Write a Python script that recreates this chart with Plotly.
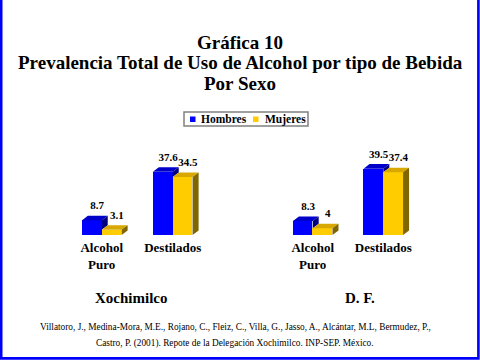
import plotly.graph_objects as go

# ---------------- data ----------------
categories = ["Alcohol<br>Puro", "Destilados"]
series_names = ["Hombres", "Mujeres"]
xochimilco_hombres = [8.7, 37.6]
xochimilco_mujeres = [3.1, 34.5]
df_hombres = [8.3, 39.5]
df_mujeres = [4, 37.4]
panel_names = ["Xochimilco", "D. F."]

title_lines = ["Gráfica 10",
               "Prevalencia Total de Uso de Alcohol por tipo de Bebida",
               "Por Sexo"]
footer_lines = ["Villatoro, J., Medina-Mora, M.E., Rojano, C., Fleiz, C., Villa, G., Jasso, A., Alcántar, M.L, Bermudez, P.,",
                "Castro, P. (2001). Repote de la Delegación Xochimilco. INP-SEP. México."]

# ---------------- style ----------------
W, H = 480, 360
SERIF = "Liberation Serif"
front_cols = ["#0000FF", "#FFCC00"]
top_cols = ["#0000C8", "#D8A800"]
side_cols = ["#000080", "#806600"]
BW = 0.28      # bar width (axis units)
DX = 0.085     # 3D depth in x units
DY = 2.7       # 3D depth in y units
LBL_GAP = 2.2  # extra gap above bar for value labels (y units)
LBL_DX = 0.075 # label shift to the right (x units)


def px_x(p):
    return p / W


def px_y(p):
    return 1 - p / H


fig = go.Figure()

panels = [
    ("x", "y", [xochimilco_hombres, xochimilco_mujeres]),
    ("x2", "y2", [df_hombres, df_mujeres]),
]

for xa, ya, (hv, mv) in panels:
    vals = [hv, mv]
    # front faces as bars
    for k in range(2):
        fig.add_trace(go.Bar(
            x=[i + (k - 0.5) * BW for i in range(len(categories))],
            y=vals[k], width=BW, base=0,
            marker=dict(color=front_cols[k], line=dict(width=0)),
            xaxis=xa, yaxis=ya, showlegend=False, hoverinfo="skip"))
    # 3D top and side faces
    for k in range(2):
        for i in range(len(categories)):
            v = vals[k][i]
            l = i - BW + k * BW
            r = l + BW
            fig.add_trace(go.Scatter(
                x=[l, r, r + DX, l + DX, l], y=[v, v, v + DY, v + DY, v],
                fill="toself", fillcolor=top_cols[k], mode="lines",
                line=dict(width=0, color=top_cols[k]),
                xaxis=xa, yaxis=ya, showlegend=False, hoverinfo="skip"))
            if k == 0:
                low = min(vals[1][i], v)
            else:
                low = 0
            fig.add_trace(go.Scatter(
                x=[r, r, r + DX, r + DX, r], y=[low, v, v + DY, low + DY, low],
                fill="toself", fillcolor=side_cols[k], mode="lines",
                line=dict(width=0, color=side_cols[k]),
                xaxis=xa, yaxis=ya, showlegend=False, hoverinfo="skip"))
    # value labels
    for k in range(2):
        fig.add_trace(go.Scatter(
            x=[i + (k - 0.5) * BW + LBL_DX for i in range(len(categories))],
            y=[v + DY + LBL_GAP for v in vals[k]],
            mode="text", text=[f"{v:g}" for v in vals[k]],
            textposition="top center",
            textfont=dict(family=SERIF, size=11, color="black", weight="bold"),
            xaxis=xa, yaxis=ya, showlegend=False, hoverinfo="skip"))

xax = dict(range=[-0.5, 1.5], tickvals=[0, 1], ticktext=categories,
           showgrid=False, zeroline=False, showline=False, ticks="",
           ticklabelstandoff=3,
           tickfont=dict(family=SERIF, size=13, color="black", weight="bold"),
           fixedrange=True)
yax = dict(range=[0, 50], showgrid=False, zeroline=False, showline=False,
           showticklabels=False, ticks="", fixedrange=True)

y_dom = [px_y(235), px_y(151)]
fig.update_layout(
    xaxis=dict(xax, domain=[px_x(66.2), px_x(208.2)], anchor="y"),
    yaxis=dict(yax, domain=y_dom, anchor="x"),
    xaxis2=dict(xax, domain=[px_x(277.4), px_x(418.6)], anchor="y2"),
    yaxis2=dict(yax, domain=y_dom, anchor="x2"),
)

ann = []
for txt, py in zip(title_lines, [42, 62, 83]):
    ann.append(dict(text=txt, x=0.5, y=px_y(py), xref="paper", yref="paper",
                    xanchor="center", yanchor="middle", showarrow=False,
                    font=dict(family=SERIF, size=19, color="black", weight="bold")))
for txt, pxx in zip(panel_names, [131.7, 360]):
    ann.append(dict(text=txt, x=px_x(pxx), y=px_y(298), xref="paper", yref="paper",
                    xanchor="center", yanchor="middle", showarrow=False,
                    font=dict(family=SERIF, size=15, color="black", weight="bold")))
for txt, py in zip(footer_lines, [327, 343]):
    ann.append(dict(text=txt, x=px_x(235), y=px_y(py), xref="paper", yref="paper",
                    xanchor="center", yanchor="middle", showarrow=False,
                    font=dict(family=SERIF, size=9.3, color="black")))

shapes = []
# legend (drawn manually)
shapes.append(dict(type="rect", xref="paper", yref="paper",
                   x0=px_x(184), x1=px_x(308), y0=px_y(126), y1=px_y(112),
                   line=dict(color="#808080", width=1.5), fillcolor="white"))
for k, (sx, tx) in enumerate([(190, 199), (253, 263)]):
    shapes.append(dict(type="rect", xref="paper", yref="paper",
                       x0=px_x(sx), x1=px_x(sx + 5.5), y0=px_y(122), y1=px_y(116.5),
                       line=dict(width=0), fillcolor=front_cols[k]))
    ann.append(dict(text=series_names[k], x=px_x(tx), y=px_y(119.3), xref="paper", yref="paper",
                    xanchor="left", yanchor="middle", showarrow=False,
                    font=dict(family=SERIF, size=11.5, color="black", weight="bold")))
# blue frame
shapes.append(dict(type="rect", xref="paper", yref="paper",
                   x0=px_x(1.2), x1=px_x(478.4), y0=px_y(358.4), y1=px_y(-5),
                   line=dict(color="#0000FF", width=2.6), fillcolor="rgba(0,0,0,0)"))

fig.update_layout(
    width=W, height=H, autosize=False,
    margin=dict(l=0, r=0, t=0, b=0),
    paper_bgcolor="white", plot_bgcolor="white",
    annotations=ann, shapes=shapes, showlegend=False,
    bargap=0, barmode="overlay",
)

fig.write_html("out.html",
               config={"displayModeBar": False},
               post_script="document.body.style.margin='0';document.body.style.padding='0';")
